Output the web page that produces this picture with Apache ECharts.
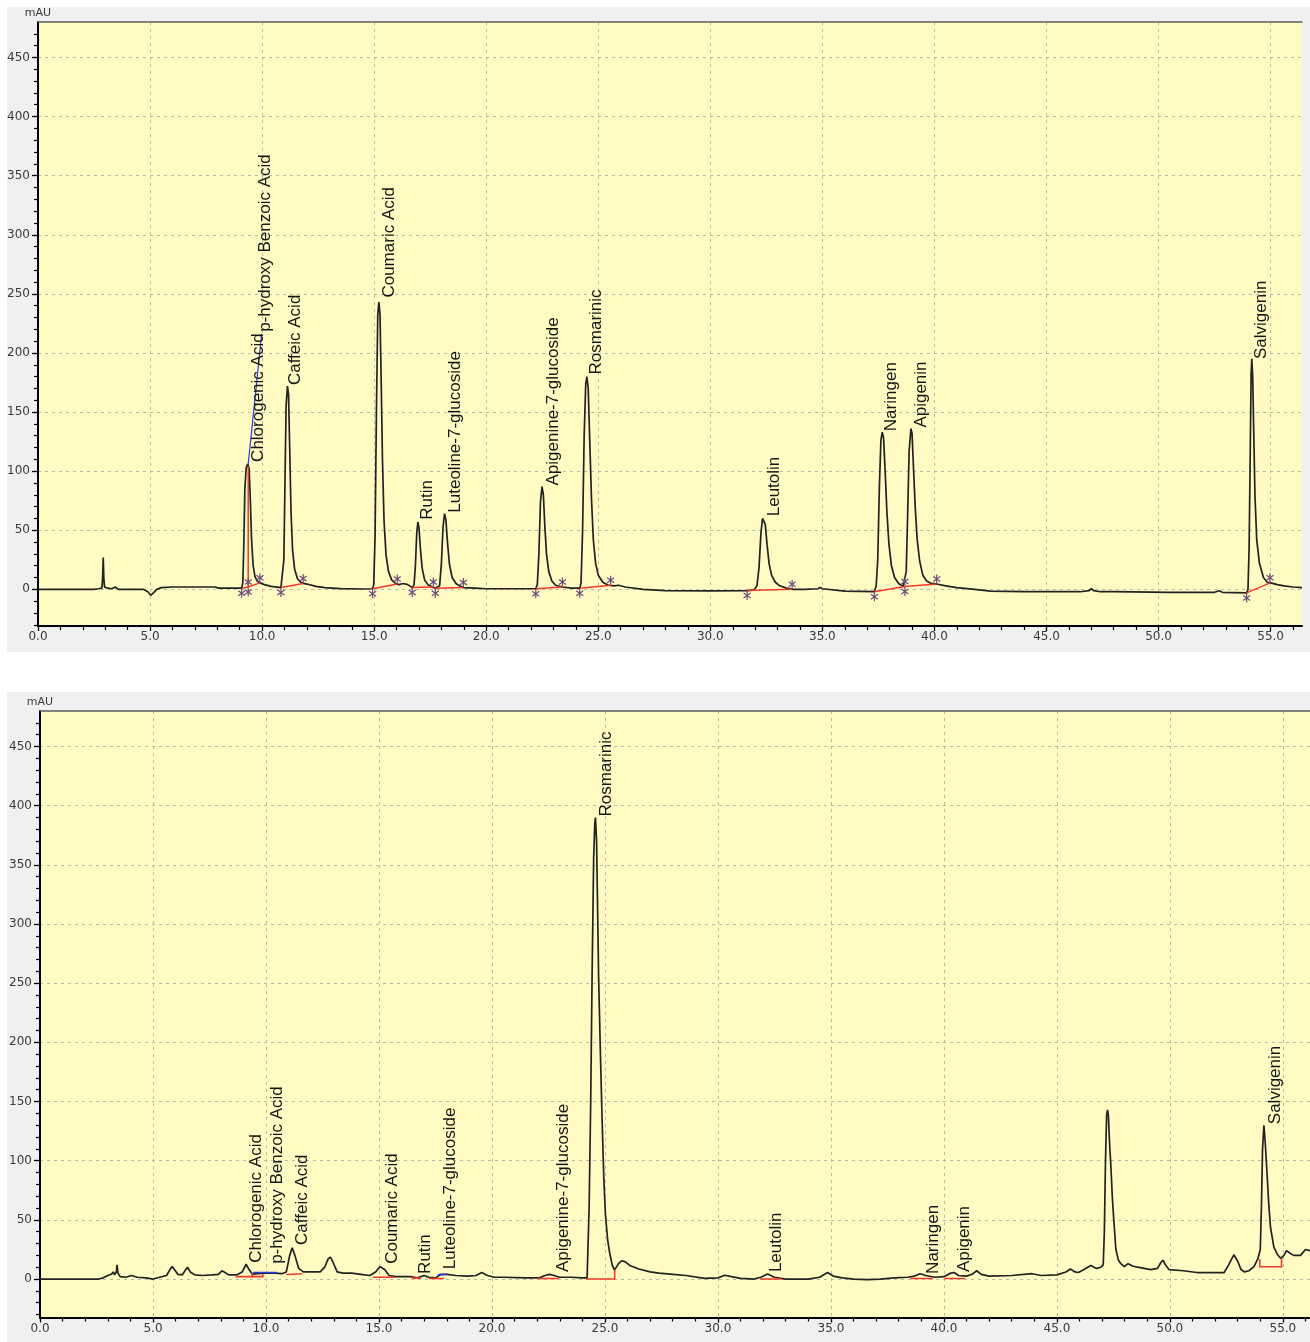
<!DOCTYPE html>
<html>
<head>
<meta charset="utf-8">
<title>HPLC chromatograms</title>
<script src="https://cdn.jsdelivr.net/npm/echarts@6/dist/echarts.min.js"></script>
<style>
  html, body { margin: 0; padding: 0; background: #ffffff; }
  #wrap { position: relative; width: 1310px; height: 1342px; overflow: hidden; }
  .panel { position: absolute; left: 7px; width: 1303px; background: #f0f0f0; }
  #chart { position: absolute; left: 0; top: 0; width: 1310px; height: 1342px; }
</style>
</head>
<body>
<div id="wrap">
  <div class="panel" style="top:7px;height:645px"></div>
  <div class="panel" style="top:692px;height:650px"></div>
  <div id="chart"></div>
</div>
<script>
// ---- axis ticks -------------------------------------------------------
const xMajorTicks = [0, 5, 10, 15, 20, 25, 30, 35, 40, 45, 50, 55];
const xMinorTicks = [1, 2, 3, 4, 6, 7, 8, 9, 11, 12, 13, 14, 16, 17, 18, 19, 21, 22, 23, 24,
  26, 27, 28, 29, 31, 32, 33, 34, 36, 37, 38, 39, 41, 42, 43, 44, 46, 47, 48, 49, 51, 52, 53, 54, 56];
const yMajorTicks = [0, 50, 100, 150, 200, 250, 300, 350, 400, 450];
const yMinorTicks = [-30, -20, -10, 10, 20, 30, 40, 60, 70, 80, 90, 110, 120, 130, 140, 160, 170, 180, 190,
  210, 220, 230, 240, 260, 270, 280, 290, 310, 320, 330, 340, 360, 370, 380, 390, 410, 420, 430, 440, 460, 470];

// ---- standard mixture (upper run): time [min], absorbance [mAU] -------
const standardTrace = [
  [0,0],[2.5,0],[2.7,0.5],[2.85,1],[2.88,8],[2.91,27],[2.94,8],[2.97,2],[3.1,1],[3.3,0.5],[3.45,2],[3.6,0],
  [4.7,0],[4.9,-2],[5.03,-5],[5.15,-3],[5.3,0],[5.5,1.5],[6.0,2],[7.0,2],[7.9,2],[8.05,1],[8.8,1],
  [9.09,1],[9.14,6],[9.18,35],[9.23,85],[9.29,103],[9.36,106],[9.42,102],[9.47,78],[9.53,42],[9.6,20],
  [9.68,11],[9.78,7],[9.9,5.5],[10.1,4],[10.4,2.5],[10.84,1.5],
  [10.9,3],[10.97,25],[11.02,90],[11.07,155],[11.13,172],[11.18,165],[11.23,120],[11.29,65],[11.36,33],
  [11.45,17],[11.58,9],[11.72,6],[11.85,5],[12.0,4.5],[12.4,2.5],[12.8,1.5],[13.5,0.6],[14.5,0.3],[14.93,0.5],
  [14.98,4],[15.04,45],[15.1,150],[15.16,232],[15.21,243],[15.26,233],[15.31,180],[15.37,110],[15.44,58],
  [15.53,29],[15.64,15],[15.78,8],[15.95,5],[16.1,4],[16.3,5],[16.5,4],[16.7,1.5],
  [16.78,4],[16.84,20],[16.9,48],[16.95,57],[17.0,52],[17.06,35],[17.14,18],[17.25,8],[17.4,4],[17.6,2],[17.73,1],
  [17.92,3],[18.0,22],[18.07,52],[18.14,64],[18.2,59],[18.27,40],[18.36,21],[18.48,10],[18.65,5],[18.85,2.5],
  [19.0,1.5],[19.5,1],[20.0,0.5],[21.0,0.5],[22.21,0.5],
  [22.28,4],[22.35,30],[22.42,74],[22.49,87],[22.55,80],[22.61,55],[22.69,30],[22.79,15],[22.93,7],[23.1,3.5],
  [23.4,2],[23.8,1],[24.17,1],
  [24.23,5],[24.3,50],[24.37,130],[24.44,174],[24.49,180],[24.55,170],[24.62,125],[24.7,75],[24.78,42],
  [24.88,22],[25.0,12],[25.2,6],[25.45,3.5],[25.7,3],[25.9,3.5],[26.2,2],[27.0,0],[28.0,-1],[30.0,-1.2],[31.64,-1],
  [31.95,-0.5],[32.08,3],[32.17,18],[32.26,48],[32.33,60],[32.38,61],[32.45,55],[32.53,38],[32.62,22],[32.73,12],
  [32.9,6],[33.1,3],[33.4,1],[33.7,0],[34.2,0],[34.8,0.5],[34.9,1.5],[35.0,0.5],[36.0,-1.5],[37.32,-2],
  [37.4,3],[37.47,25],[37.54,85],[37.61,126],[37.67,133],[37.73,128],[37.8,100],[37.88,65],[37.97,38],
  [38.08,20],[38.22,10],[38.4,5],[38.6,2.5],[38.68,3],
  [38.74,15],[38.8,60],[38.87,117],[38.95,136],[39.0,132],[39.06,105],[39.14,70],[39.23,42],[39.34,24],
  [39.48,12],[39.65,7],[39.85,5],[40.1,4.5],[40.5,3],[41.0,1.5],[41.8,0],[42.5,-1.5],[44.0,-2],[46.5,-2],
  [46.9,-1],[47.0,0.5],[47.1,-1],[47.4,-2],[48.0,-2],[50.5,-2.5],[52.5,-2.5],[52.7,-1.2],[52.85,-2.5],[53.93,-3],
  [53.99,0],[54.04,35],[54.09,115],[54.13,182],[54.16,195],[54.2,180],[54.24,140],[54.3,80],[54.38,42],
  [54.5,22],[54.68,10],[54.85,6],[55.0,5.5],[55.3,4],[55.6,3],[56.0,2],[56.4,1.5]
];

// ---- plant extract (lower run) -------------------------------------------
const extractTrace = [
  [0,0],[2.6,0],[2.8,1],[3.0,3],[3.15,4],[3.25,6],[3.3,3.5],[3.38,6],[3.41,12],[3.45,5],[3.55,2],[3.8,1.5],
  [4.05,3],[4.3,1.5],[4.7,1],[5.0,0],[5.3,1.5],[5.6,3],[5.75,8],[5.85,10.5],[5.95,8],[6.1,4],[6.3,3.5],
  [6.45,8],[6.53,10],[6.65,6],[6.85,3.5],[7.2,3],[7.6,3.5],[7.9,4],[8.05,7],[8.15,6],[8.35,3.5],[8.7,3.5],
  [8.95,6],[9.12,12.5],[9.25,8],[9.4,4],[9.6,4.5],[10.0,5],[10.4,5],[10.7,4.5],[10.9,6],[11.05,20],[11.16,26.5],
  [11.28,20],[11.45,9],[11.65,6],[12.0,6],[12.4,6],[12.6,10],[12.75,17],[12.85,18.5],[12.97,14],[13.15,6],
  [13.4,5],[13.8,5],[14.2,4],[14.6,3],[14.85,6],[15.05,10.5],[15.25,8],[15.45,3],[15.75,2],[16.4,2],[16.7,1],
  [17.0,3],[17.2,1.5],[17.5,1],[17.75,4],[18.0,4],[18.4,3],[18.9,2.5],[19.3,3],[19.55,5.5],[19.8,3],[20.1,1.5],
  [20.5,1.5],[21.5,1],[22.1,1],[22.35,3],[22.55,4],[22.75,3],[23.0,1.5],[23.5,1.5],[24.0,1],
  [24.21,1],[24.3,60],[24.37,150],[24.43,255],[24.5,355],[24.55,385],[24.58,390],[24.63,370],[24.72,255],
  [24.8,190],[24.87,138],[24.95,85],[25.02,55],[25.12,33],[25.21,22],[25.32,12],[25.42,7.5],[25.5,8],
  [25.6,13],[25.75,15.5],[25.9,14.5],[26.1,11.5],[26.5,8.5],[27.0,6],[27.4,5],[28.0,4],[28.6,3],[29.4,0.5],
  [30.0,1],[30.3,3.2],[30.6,2],[31.0,0.5],[31.6,0],[31.9,1.5],[32.2,4.3],[32.5,1.5],[33.0,0],[34.0,0],
  [34.5,1.5],[34.85,5.5],[35.1,2.5],[35.5,1],[36.0,0],[36.6,-0.5],[37.2,0],[37.8,1],[38.4,1.5],[38.7,2.5],
  [38.95,4.5],[39.2,3],[39.6,1.5],[40.0,2],[40.3,5],[40.45,5.5],[40.65,3],[41.0,2.5],[41.25,4],[41.45,7],
  [41.65,4],[42.0,2.5],[43.0,3],[43.9,4.5],[44.3,3],[45.0,3.5],[45.4,6],[45.6,8.5],[45.8,6],[45.95,5.5],
  [46.2,8],[46.5,11.5],[46.75,9],[46.95,10],
  [47.05,12],[47.1,40],[47.15,100],[47.2,138],[47.24,143],[47.28,138],[47.33,115],[47.39,95],[47.45,70],
  [47.51,52],[47.61,25],[47.72,16],[47.83,13],[47.98,10.5],[48.15,13],[48.35,11],[48.57,10],[49.15,8],
  [49.45,9],[49.6,14],[49.7,16],[49.8,12],[49.96,8],[50.6,7],[51.2,5.5],[52.4,5.5],[52.6,12],[52.83,20.5],
  [53.0,15],[53.15,8],[53.3,6],[53.5,7],[53.72,10.5],[53.89,17],
  [54.0,25],[54.05,60],[54.1,110],[54.16,130],[54.22,115],[54.3,89],[54.37,65],[54.45,44],[54.6,27],
  [54.75,21],[54.9,17.5],[55.05,20],[55.16,24],[55.3,22],[55.48,20],[55.78,20],[56.0,25],[56.2,24]
];

// ---- peak annotations: name, retention time, height at label start ------
const compoundNames = ['Chlorogenic Acid', 'p-hydroxy Benzoic Acid', 'Caffeic Acid', 'Coumaric Acid', 'Rutin',
  'Luteoline-7-glucoside', 'Apigenine-7-glucoside', 'Rosmarinic', 'Leutolin', 'Naringen', 'Apigenin', 'Salvigenin'];
const standardLabelTimes   = [9.37, 9.68, 11.04, 15.22, 16.94, 18.16, 22.56, 24.47, 32.42, 37.62, 38.97, 54.12];
const standardLabelHeights = [107, 217, 172, 246, 58, 64, 87, 181, 61, 133, 136, 194];
const extractLabelTimes    = [9.13, 10.08, 11.18, 15.16, 16.63, 17.73, 22.70, 24.61, 32.15, 39.11, 40.47, 54.23];
const extractLabelHeights  = [13, 12, 28, 12, 3.5, 7.5, 5, 390, 5, 3.5, 5, 130];

// ---- integration of the standard run: peak start / end points ----------
const standardPeakStarts = [[9.09,1],[9.38,2],[10.84,1.5],[14.93,0.5],[16.7,1.5],[17.73,1],[22.21,0.5],
  [24.17,1],[31.64,-1],[37.32,-2],[38.68,2.5],[53.93,-3]];
const standardPeakEnds = [[9.38,2],[9.9,5.5],[11.83,5],[16.03,4.5],[17.64,2],[18.98,1.5],[23.4,2],
  [25.55,3.5],[33.65,0],[38.68,2.5],[40.1,4.5],[54.97,5.5]];
const standardBaselines = [
  [[9.09,1],[9.38,2]], [[9.38,2],[9.38,104]], [[9.38,2],[9.9,5.5]], [[10.84,1.5],[11.83,5]],
  [[14.93,0.5],[16.03,4.5]], [[16.7,1.5],[17.64,2]], [[17.73,1],[18.98,1.5]], [[22.21,0.5],[23.4,2]],
  [[24.17,1],[25.55,3.5]], [[31.64,-1],[33.65,0]], [[37.32,-2],[38.68,2.5]], [[38.68,2.5],[40.1,4.5]],
  [[53.93,-3],[54.97,5.5]]
];
const standardLeader = [[[9.38,106],[9.98,216]]];

// ---- integration of the extract run ------------------------------------
const extractBaselines = [
  [[8.66,2],[9.39,2],[9.39,5]], [[9.39,2],[9.86,2],[9.86,4]], [[10.9,3.8],[11.6,4.5]],
  [[14.72,1.5],[15.7,1.5]], [[16.48,0.8],[16.85,0.8]], [[17.22,0.5],[17.88,0.5]], [[22.0,0.5],[22.96,0.5]],
  [[24.16,0],[25.43,0],[25.43,8]], [[31.86,0],[32.82,0]], [[38.52,0.5],[39.51,0.5]], [[40.03,0.5],[40.94,0.5]],
  [[53.98,17],[53.98,10.4],[54.94,10.4],[54.94,17.5]]
];
const extractSplitBaselines = [[[9.42,5.5],[10.48,5.5]], [[17.6,3.5],[18.0,4]]];

// ---- chart ---------------------------------------------------------------
const AXIS_FONT = 'DejaVu Sans';
const LABEL_FONT = '"Liberation Sans", Arial, sans-serif';
const TRACE_COLOR = '#222222';
const BASELINE_RED = '#f2392c';
const SPLIT_BLUE = '#2c3ee0';

function timeAxes(gridIndex, xMax) {
  return [
    {
      type: 'value', gridIndex, position: 'bottom', min: 0, max: xMax, interval: 5,
      axisLine: { onZero: false, lineStyle: { color: '#000', width: 2 } },
      axisTick: { customValues: xMajorTicks, length: 5, lineStyle: { color: '#000', width: 1.3 } },
      axisLabel: { customValues: xMajorTicks, formatter: v => v.toFixed(1), color: '#3a3a3a',
        fontFamily: AXIS_FONT, fontSize: 12, margin: 5 },
      splitLine: { show: true, lineStyle: { color: '#b9b9ad', type: [3, 4], width: 1 } }
    },
    {
      type: 'value', gridIndex, position: 'bottom', min: 0, max: xMax,
      axisLine: { show: false, onZero: false },
      axisTick: { customValues: xMinorTicks, length: 4, lineStyle: { color: '#000', width: 1.2 } },
      axisLabel: { show: false }, splitLine: { show: false }
    },
    {
      type: 'value', gridIndex, position: 'top', min: 0, max: xMax,
      axisLine: { onZero: false, lineStyle: { color: '#5c5c5c', width: 1.5 } },
      axisTick: { show: false }, axisLabel: { show: false }, splitLine: { show: false }
    }
  ];
}

function absorbanceAxes(gridIndex, yMin) {
  return [
    {
      type: 'value', gridIndex, position: 'left', min: yMin, max: 480, splitNumber: 10,
      name: 'mAU', nameLocation: 'end', nameGap: 3,
      nameTextStyle: { color: '#3a3a3a', fontFamily: AXIS_FONT, fontSize: 11, align: 'center' },
      axisLine: { onZero: false, lineStyle: { color: '#000', width: 2 } },
      axisTick: { customValues: yMajorTicks, length: 6, lineStyle: { color: '#000', width: 1.3 } },
      axisLabel: { customValues: yMajorTicks, color: '#3a3a3a', fontFamily: AXIS_FONT, fontSize: 12, margin: 8 },
      splitLine: { show: true, lineStyle: { color: '#b9b9ad', type: [3, 4], width: 1 } }
    },
    {
      type: 'value', gridIndex, position: 'left', min: yMin, max: 480,
      axisLine: { show: false, onZero: false },
      axisTick: { customValues: yMinorTicks, length: 4, lineStyle: { color: '#000', width: 1.2 } },
      axisLabel: { show: false }, splitLine: { show: false }
    }
  ];
}

function traceSeries(data, xi, yi) {
  return {
    type: 'line', data, xAxisIndex: xi, yAxisIndex: yi, showSymbol: false, symbol: 'none',
    sampling: 'none', lineStyle: { color: TRACE_COLOR, width: 1.7 }, z: 3, silent: true
  };
}

function segmentSeries(segments, xi, yi, color, width) {
  return {
    type: 'lines', coordinateSystem: 'cartesian2d', xAxisIndex: xi, yAxisIndex: yi, polyline: true,
    data: segments.map(coords => ({ coords })), lineStyle: { color, width, opacity: 1 }, z: 4, silent: true
  };
}

function labelSeries(times, heights, xi, yi) {
  return {
    type: 'custom', xAxisIndex: xi, yAxisIndex: yi, z: 6, silent: true, clip: false,
    data: times.map((t, i) => [t, heights[i]]),
    renderItem(params, api) {
      const p = api.coord([api.value(0), api.value(1)]);
      return {
        type: 'text', x: p[0] + 10, y: p[1] - 1, rotation: Math.PI / 2,
        style: { text: compoundNames[params.dataIndex], fill: '#151515', fontSize: 17, fontFamily: LABEL_FONT,
          align: 'left', verticalAlign: 'middle' }
      };
    }
  };
}

function markerSeries(starts, ends, xi, yi) {
  const data = starts.map(p => [p[0], p[1], 1]).concat(ends.map(p => [p[0], p[1], -1]));
  return {
    type: 'custom', xAxisIndex: xi, yAxisIndex: yi, z: 5, silent: true, clip: false, data,
    renderItem(params, api) {
      const p = api.coord([api.value(0), api.value(1)]);
      const cx = p[0], cy = p[1] + api.value(2) * 5;
      const s = { stroke: '#6b4a7e', lineWidth: 1.2 };
      return {
        type: 'group', children: [
          { type: 'line', shape: { x1: cx, y1: cy - 4.5, x2: cx, y2: cy + 4.5 }, style: s },
          { type: 'line', shape: { x1: cx - 3.5, y1: cy - 2.5, x2: cx + 3.5, y2: cy + 2.5 }, style: s },
          { type: 'line', shape: { x1: cx - 3.5, y1: cy + 2.5, x2: cx + 3.5, y2: cy - 2.5 }, style: s }
        ]
      };
    }
  };
}

const chart = echarts.init(document.getElementById('chart'), null, { renderer: 'canvas' });
chart.setOption({
  animation: false,
  backgroundColor: 'transparent',
  grid: [
    { left: 38, top: 22, width: 1264, height: 604, show: true, backgroundColor: '#fffbc2', borderWidth: 0 },
    { left: 40, top: 711, width: 1273, height: 606.5, show: true, backgroundColor: '#fffbc2', borderWidth: 0 }
  ],
  xAxis: [...timeAxes(0, 56.4), ...timeAxes(1, 56.2)],
  yAxis: [...absorbanceAxes(0, -31), ...absorbanceAxes(1, -32.5)],
  series: [
    traceSeries(standardTrace, 0, 0),
    segmentSeries(standardBaselines, 0, 0, BASELINE_RED, 1.5),
    segmentSeries(standardLeader, 0, 0, SPLIT_BLUE, 1.2),
    markerSeries(standardPeakStarts, standardPeakEnds, 0, 0),
    labelSeries(standardLabelTimes, standardLabelHeights, 0, 0),
    traceSeries(extractTrace, 3, 2),
    segmentSeries(extractBaselines, 3, 2, BASELINE_RED, 1.6),
    segmentSeries(extractSplitBaselines, 3, 2, SPLIT_BLUE, 1.6),
    labelSeries(extractLabelTimes, extractLabelHeights, 3, 2)
  ]
});
</script>
</body>
</html>
